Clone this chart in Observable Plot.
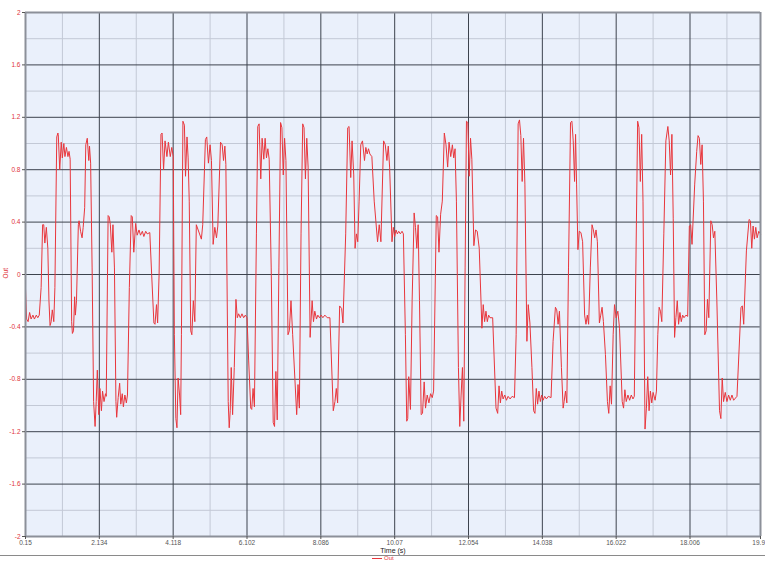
<!DOCTYPE html>
<html>
<head>
<meta charset="utf-8">
<script src="https://cdn.jsdelivr.net/npm/d3@7"></script>
<script src="https://cdn.jsdelivr.net/npm/@observablehq/plot@0.6"></script>
<style>
  html, body { margin: 0; padding: 0; background: #fff; }
  #chart { width: 765px; height: 555px; }
  #legend { width: 765px; height: 7px; border-top: 1px solid #8a8a8a; position: relative;
            font-family: "Liberation Sans", Arial, sans-serif; font-size: 6px; color: #e8363c; }
  #legend .item { position: absolute; left: 372px; top: -1px; line-height: 7px; white-space: nowrap; }
  #legend .swatch { display: inline-block; width: 10px; height: 1px; background: #e8363c; vertical-align: middle; margin-right: 2px; }
</style>
</head>
<body>
<div id="chart"></div>
<div id="legend"><span class="item"><span class="swatch"></span>Out</span></div>
<script>
const xTicks = [0.15, 2.134, 4.118, 6.102, 8.086, 10.07, 12.054, 14.038, 16.022, 18.006, 19.9];
const xMinor = [1.142, 3.126, 5.11, 7.094, 9.078, 11.062, 13.046, 15.03, 17.014, 18.998];
const yTicks = [-2, -1.6, -1.2, -0.8, -0.4, 0, 0.4, 0.8, 1.2, 1.6, 2];
const yMinor = [-1.8, -1.4, -1.0, -0.6, -0.2, 0.2, 0.6, 1.0, 1.4, 1.8];
const xLabel = "Time (s)";
const yLabel = "Out";

const time = [
0.15,0.18,0.22,0.26,0.30,0.35,0.39,0.44,0.48,0.52,0.57,0.61,0.64,0.67,0.71,0.75,0.78,0.81,0.84,0.87,0.91,0.94,
0.99,1.02,1.03,1.07,1.11,1.14,1.18,1.21,1.25,1.29,1.32,1.35,1.39,1.41,1.44,1.47,1.49,1.52,1.57,1.59,1.63,1.67,1.70,1.74,
1.77,1.81,1.85,1.87,1.90,1.94,1.98,2.02,2.05,2.08,2.12,2.15,2.19,2.22,2.26,2.30,2.32,2.37,2.40,2.43,2.47,2.50,2.54,2.58,
2.60,2.64,2.68,2.71,2.75,2.78,2.82,2.86,2.89,2.94,2.99,3.02,3.06,3.11,3.15,3.20,3.24,3.29,3.33,3.38,3.42,3.49,3.54,3.60,
3.63,3.67,3.70,3.74,3.79,3.82,3.86,3.90,3.95,3.99,4.04,4.08,4.12,4.15,4.19,4.22,4.25,4.29,4.32,4.34,4.38,4.42,4.45,4.49,
4.52,4.55,4.59,4.62,4.66,4.70,4.74,
4.876,4.912,4.984,5.020,5.065,5.110,5.147,5.192,5.237,5.282,5.318,5.390,5.435,5.471,5.507,5.534,5.597,5.624,5.651,5.678,
5.715,5.760,5.805,5.841,5.877,5.922,5.967,6.012,6.057,6.102,6.147,6.202,6.229,6.265,6.301,6.355,6.391,6.427,6.472,6.508,
6.553,6.589,6.625,6.662,6.698,6.752,6.806,6.842,6.878,6.914,6.959,7.004,7.040,7.076,7.112,7.148,7.203,7.239,7.284,7.329,
7.437,7.473,7.509,7.554,7.599,7.635,7.672,7.708,7.744,7.798,7.852,7.888,7.924,7.969,8.005,8.050,8.095,8.140,8.194,8.258,
8.330,8.420,8.465,8.501,8.537,8.591,8.645,8.681,8.754,8.808,8.844,8.889,8.925,8.970,9.006,9.042,9.078,9.114,9.159,9.205,
9.259,9.295,9.331,9.367,9.403,9.457,9.520,9.610,9.655,9.700,
9.772,9.817,9.862,9.898,9.934,9.998,10.034,10.070,10.106,10.142,10.178,10.223,10.268,10.304,10.358,10.394,10.421,10.448,
10.494,10.539,10.593,10.629,10.665,10.701,10.737,10.782,10.818,10.863,10.899,10.944,10.990,11.035,11.080,11.116,11.188,
11.224,11.260,11.305,11.350,11.404,11.449,11.494,11.531,11.576,11.621,11.657,11.693,11.729,11.783,11.819,11.855,11.891,
11.927,11.963,11.999,12.036,12.072,12.108,12.144,12.198,12.243,12.288,12.342,12.414,12.450,12.487,12.523,12.559,12.595,
12.631,12.703,12.793,12.838,12.874,12.910,12.946,12.983,13.028,13.073,13.118,13.172,13.226,13.289,13.334,13.388,13.424,
13.460,13.496,13.532,13.569,13.623,13.659,13.704,13.758,13.803,13.839,13.875,13.911,13.947,13.984,14.020,14.056,14.101,
14.146,14.200,14.272,14.326,14.389,14.425,14.461,14.497,14.551,14.597,
14.624,14.660,14.696,14.741,14.795,14.832,14.868,14.904,14.931,14.958,14.994,15.030,15.075,15.120,15.174,15.210,15.246,
15.282,15.327,15.373,15.409,15.445,15.481,15.517,15.571,15.607,15.643,15.679,15.733,15.787,15.823,15.860,15.896,15.941,
15.977,16.022,16.067,16.112,16.184,16.220,16.256,16.292,16.338,16.383,16.428,16.473,16.509,16.599,16.635,16.671,16.707,
16.743,16.797,16.834,16.870,16.906,16.942,16.978,17.014,17.068,17.104,17.140,17.176,17.212,17.248,17.302,17.357,17.411,
17.447,17.483,17.519,17.555,17.591,17.627,17.663,17.699,17.735,17.771,17.808,17.844,17.898,17.943,17.988,18.024,18.060,
18.132,18.186,18.222,18.258,18.295,18.331,18.367,18.403,18.439,18.475,18.511,18.565,18.601,18.637,18.673,18.727,18.799,
18.835,18.871,18.907,18.953,18.998,19.043,19.088,19.133,19.178,19.268,19.376,19.412,19.449,19.521,19.593,19.629,19.665,
19.701,19.737,19.773,19.809,19.854,19.9
];

const out = [
-0.11,-0.34,-0.36,-0.29,-0.34,-0.31,-0.34,-0.31,-0.33,-0.31,-0.10,0.38,0.38,0.24,0.36,0.20,-0.20,-0.39,-0.36,-0.27,-0.36,-0.10,
1.05,1.08,1.07,0.80,1.01,0.89,1.00,0.90,0.97,0.90,0.94,0.88,-0.36,-0.45,-0.43,-0.17,-0.31,-0.20,0.38,0.41,0.33,0.28,0.36,0.51,
0.99,1.04,0.87,0.98,0.85,0.05,-0.97,-1.16,-0.97,-0.73,-1.07,-0.87,-1.04,-0.89,-0.97,-0.91,-0.93,0.45,0.44,0.38,0.17,0.38,0.05,-0.97,
-1.09,-0.94,-0.83,-0.99,-0.91,-1.01,-0.92,-0.98,-0.92,-0.10,0.45,0.44,0.17,0.39,0.30,0.34,0.30,0.33,0.29,0.33,0.31,0.32,0.00,-0.37,
-0.38,-0.23,-0.37,0.00,1.07,1.08,0.80,1.02,0.90,1.01,0.90,0.97,0.90,-0.46,-1.10,-1.17,-0.79,-0.92,-1.07,-0.46,1.17,1.14,0.75,1.05,
0.89,0.56,-0.43,-0.46,-0.20,-0.36,0.38,
0.27,0.38,1.03,1.05,0.85,0.99,0.87,0.23,0.36,0.28,0.37,1.01,0.99,0.87,0.98,0.84,-0.97,-1.17,-1.04,-0.71,
-1.07,-0.71,-0.19,-0.33,-0.30,-0.33,-0.30,-0.33,-0.31,-0.33,-0.66,-1.02,-1.03,-0.87,-1.01,0.31,1.13,1.15,0.73,1.04,
0.88,1.04,0.89,0.96,0.88,0.05,-1.13,-1.16,-0.74,-1.11,0.05,1.16,1.12,0.76,1.04,0.87,-0.46,-0.43,-0.20,-0.46,
-1.07,-0.84,-1.02,0.31,1.15,1.12,0.73,1.04,0.82,-0.48,-0.20,-0.36,-0.28,-0.34,-0.31,-0.33,-0.31,-0.33,-0.31,-0.33,
-0.33,-1.04,-0.97,-0.87,-0.98,-0.24,-0.26,-0.37,0.31,1.12,1.13,0.74,1.02,0.76,0.20,0.31,0.25,0.56,0.99,1.02,
0.87,0.97,0.92,0.96,0.92,0.90,0.56,0.25,0.38,0.25,
1.02,0.99,0.87,0.98,0.82,0.25,0.36,0.29,0.34,0.31,0.33,0.31,0.33,0.31,-0.46,-1.12,-1.10,-0.78,
-1.03,-0.20,0.47,0.36,0.20,0.38,-0.20,-1.07,-1.06,-0.82,-1.02,-0.92,-0.98,-0.91,-0.94,-0.89,0.45,
0.44,0.17,0.46,0.56,1.08,0.99,0.82,1.01,0.90,0.99,0.89,0.96,0.56,-0.71,-1.16,-0.92,-0.71,
-1.12,0.05,1.17,1.16,0.75,1.04,0.88,0.22,0.34,0.33,0.20,-0.41,-0.23,-0.36,-0.28,-0.36,-0.31,
-0.33,-0.33,-1.02,-1.06,-0.85,-0.98,-0.89,-0.95,-0.92,-0.96,-0.93,-0.95,-0.93,-0.94,-0.46,1.15,1.18,
1.06,0.71,1.04,0.69,-0.51,-0.23,-0.37,-0.71,-1.04,-1.06,-0.87,-0.99,-0.89,-0.97,-0.92,-0.96,-0.93,
-0.95,-0.93,-0.94,-0.51,-0.25,-0.27,-0.38,-0.28,-0.71,-1.02,
-0.97,-0.89,-0.98,0.05,1.16,1.17,1.02,0.71,1.07,0.69,0.19,0.33,0.32,0.25,-0.31,-0.38,-0.31,
-0.38,0.05,0.38,0.34,0.28,0.34,0.25,-0.37,-0.31,-0.25,-0.36,-0.61,-0.97,-1.06,-0.85,-0.99,-0.46,
-0.23,-0.33,-0.28,-0.41,-0.97,-1.02,-0.88,-0.97,-0.92,-0.96,-0.92,-0.95,-0.93,1.17,1.12,0.71,1.07,
0.56,-1.18,-1.02,-0.78,-1.04,-0.89,-0.98,-0.90,-0.96,-0.89,-0.46,-0.25,-0.28,-0.36,0.31,1.02,1.13,
1.02,0.76,1.07,0.43,-0.48,-0.33,-0.20,-0.38,-0.29,-0.36,-0.31,-0.33,-0.31,-0.32,0.37,0.38,0.23,
0.69,0.94,1.06,1.04,0.84,0.99,0.56,-0.46,-0.43,-0.19,-0.33,0.41,0.38,0.28,0.33,-0.20,-1.04,
-1.10,-0.79,-0.97,-0.90,-0.97,-0.92,-0.96,-0.92,-0.96,-0.93,-0.25,-0.24,-0.38,0.18,0.42,0.41,0.20,
0.37,0.27,0.36,0.28,0.33,0.31
];

const data = time.map((t, i) => ({t, v: out[i]}));
const fmt = d => String(d);
const lastX = xTicks[xTicks.length - 1];

const chart = Plot.plot({
  width: 765,
  height: 555,
  marginLeft: 25,
  marginRight: 5,
  marginTop: 12,
  marginBottom: 19,
  style: {fontFamily: "'Liberation Sans', Arial, sans-serif", fontSize: "6.5px", background: "#fff", overflow: "visible"},
  x: {domain: [0.15, 19.9]},
  y: {domain: [-2, 2]},
  marks: [
    Plot.frame({fill: "#eaf0fb", stroke: null}),
    Plot.ruleX(xMinor, {stroke: "#c3c9d6", strokeWidth: 1}),
    Plot.ruleY(yMinor, {stroke: "#c3c9d6", strokeWidth: 1}),
    Plot.ruleX(xTicks.slice(1, -1), {stroke: "#3d434e", strokeWidth: 1}),
    Plot.ruleY(yTicks.slice(1, -1), {stroke: "#3d434e", strokeWidth: 1}),
    Plot.line(data, {x: "t", y: "v", stroke: "#e8363c", strokeWidth: 1}),
    Plot.ruleX([xTicks[0], lastX], {stroke: "#8c9099", strokeWidth: 2}),
    Plot.ruleY([yTicks[0], yTicks[yTicks.length - 1]], {stroke: "#8c9099", strokeWidth: 2}),
    Plot.axisX(xTicks, {tickSize: 3, tickPadding: 1, tickFormat: d => d === lastX ? "" : fmt(d), label: null, fill: "#555", stroke: "#555"}),
    Plot.text([lastX], {x: d => d, frameAnchor: "bottom", lineAnchor: "top", textAnchor: "end", dx: 4.5, dy: 4, text: d => fmt(d), fill: "#555"}),
    Plot.axisY(yTicks, {tickSize: 3, tickPadding: 2, tickFormat: fmt, label: null, fill: "#e0343a", stroke: "#555"}),
    Plot.text([xLabel], {frameAnchor: "bottom", dy: 16, fill: "#222", fontSize: 7}),
    Plot.text([yLabel], {frameAnchor: "left", dx: -20, dy: 4, rotate: -90, fill: "#e0343a", fontSize: 6.5})
  ]
});
document.getElementById("chart").appendChild(chart);
</script>
</body>
</html>
